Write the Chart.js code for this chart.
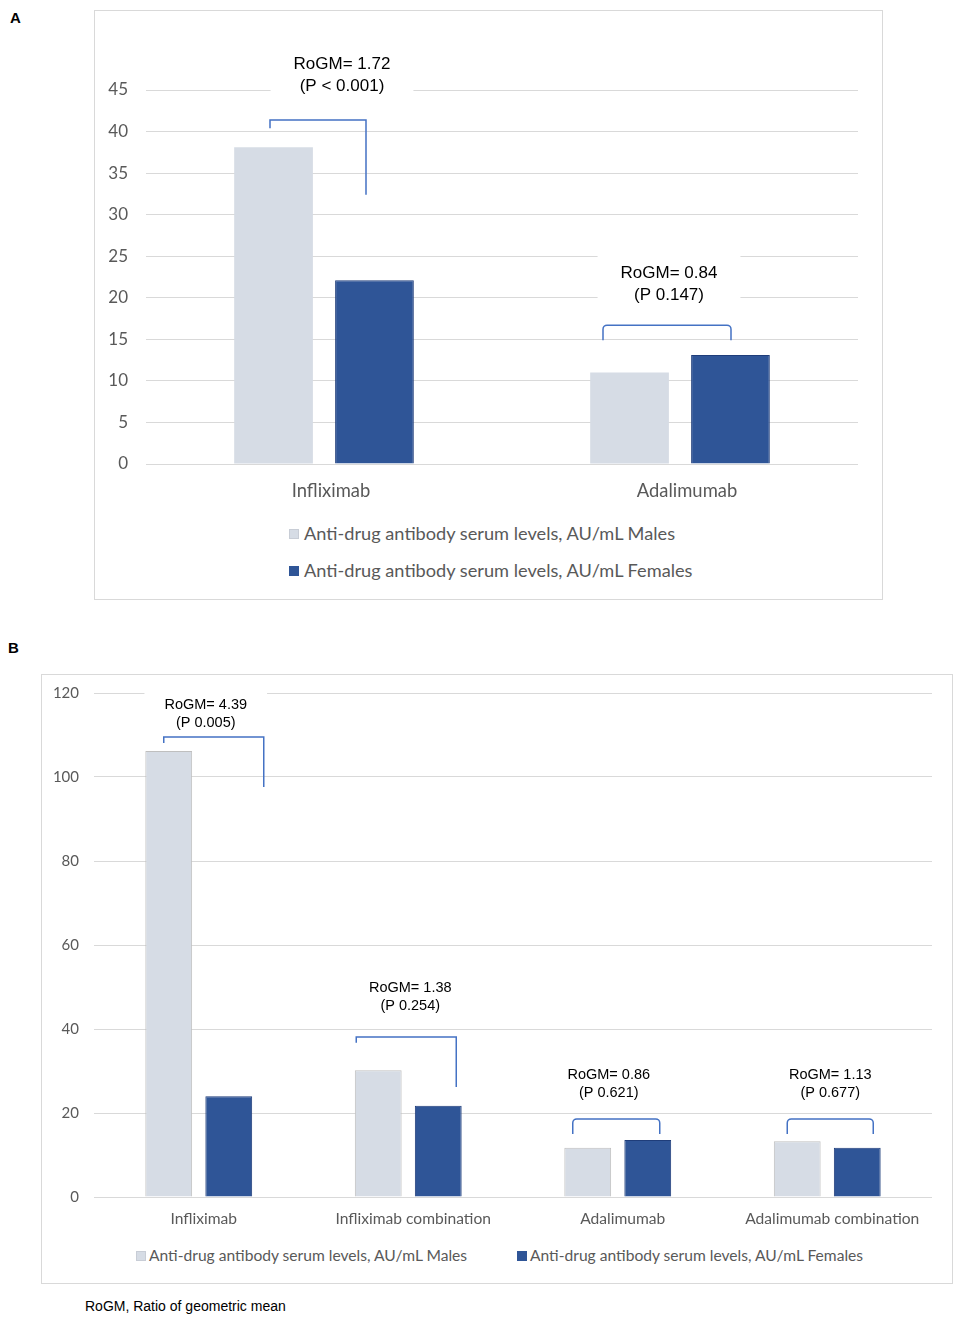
<!DOCTYPE html>
<html>
<head>
<meta charset="utf-8">
<script src="https://cdn.jsdelivr.net/npm/chart.js@4.4.1/dist/chart.umd.min.js"></script>
<style>
  body { margin: 0; width: 957px; height: 1321px; background: #fff; position: relative; font-family: "Liberation Sans", Arial, sans-serif; }
  .frame { position: absolute; border: 1px solid #d9d9d9; box-sizing: border-box; }
  .panel-tag { position: absolute; font-weight: bold; font-size: 15px; color: #000; }
  canvas { position: absolute; }
  .lg { position: absolute; font-family: Lato, sans-serif; color: #595959; white-space: nowrap; }
  .lg i { position: absolute; display: block; }
  .note { position: absolute; font-size: 14px; color: #000; }
</style>
</head>
<body>
<div class="panel-tag" style="left:10px;top:9px;">A</div>
<div class="frame" style="left:94px;top:10px;width:789px;height:590px;"></div>
<canvas id="chartA" width="786" height="500" style="left:95px;top:11px;width:786px;height:500px;"></canvas>
<div id="legendA"></div>

<div class="panel-tag" style="left:8px;top:639px;">B</div>
<div class="frame" style="left:41px;top:674px;width:912px;height:610px;"></div>
<canvas id="chartB" width="909" height="560" style="left:42px;top:675px;width:909px;height:560px;"></canvas>
<div id="legendB"></div>

<div class="note" style="left:85px;top:1298px;">RoGM, Ratio of geometric mean</div>

<script>
// ---- data ----
const seriesNames = ['Anti-drug antibody serum levels, AU/mL Males', 'Anti-drug antibody serum levels, AU/mL Females'];

const catsA = ['Infliximab', 'Adalimumab'];
const malesA = [38.1, 11.0];
const femalesA = [22.1, 13.1];
const ticksA = [0, 5, 10, 15, 20, 25, 30, 35, 40, 45];

const catsB = ['Infliximab', 'Infliximab combination', 'Adalimumab', 'Adalimumab combination'];
const malesB = [106.2, 30.2, 11.7, 13.3];
const femalesB = [24.0, 21.7, 13.6, 11.7];
const ticksB = [0, 20, 40, 60, 80, 100, 120];

// annotations (ratio text, p value, bracket levels in axis units)
const rogmA = ['RoGM= 1.72', 'RoGM= 0.84'];
const pA = ['(P < 0.001)', '(P 0.147)'];
const textYA = [48.1, 23.0];
const brTopA = [41.4, 16.7];
const brLeftA = [40.4, 14.9];
const brRightA = [32.4, 14.9];

const rogmB = ['RoGM= 4.39', 'RoGM= 1.38', 'RoGM= 0.86', 'RoGM= 1.13'];
const pB = ['(P 0.005)', '(P 0.254)', '(P 0.621)', '(P 0.677)'];
const textYB = [117.1, 49.8, 29.0, 29.0];
const brTopB = [109.5, 38.1, 18.6, 18.6];
const brLeftB = [108.1, 36.7, 15.0, 15.0];
const brRightB = [97.6, 26.2, 15.0, 15.0];

const maleFill = '#d6dce5';
const femaleFill = '#2f5597';
const bracketColor = '#4472c4';

// draws the RoGM labels and the brackets joining the two bars
const rogmPlugin = {
  id: 'rogm',
  beforeDatasetsDraw(chart, args, o) {
    const ctx = chart.ctx, xs = chart.scales.x, ys = chart.scales.y;
    ctx.save();
    ctx.font = o.size + 'px "Liberation Sans", Arial, sans-serif';
    o.rogm.forEach((t, i) => {
      const cx = xs.getPixelForValue(i) + o.textDx[i];
      const y1 = ys.getPixelForValue(o.textY[i]);
      const w = Math.max(ctx.measureText(t).width, ctx.measureText(o.p[i]).width) + o.pad * 2;
      ctx.fillStyle = '#fff';
      ctx.fillRect(cx - w / 2, y1 - o.size * 1.2, w, o.gap + o.size * 1.9);
    });
    ctx.restore();
  },
  afterDatasetsDraw(chart, args, o) {
    const ctx = chart.ctx, xs = chart.scales.x, ys = chart.scales.y;
    ctx.save();
    ctx.font = o.size + 'px "Liberation Sans", Arial, sans-serif';
    ctx.textAlign = 'center';
    ctx.textBaseline = 'middle';
    ctx.fillStyle = '#000';
    o.rogm.forEach((t, i) => {
      const cx = xs.getPixelForValue(i) + o.textDx[i];
      const y1 = ys.getPixelForValue(o.textY[i]);
      ctx.fillText(t, cx, y1);
      ctx.fillText(o.p[i], cx, y1 + o.gap);

      const x0 = xs.getPixelForValue(i) + o.leftDx[i];
      const x1 = xs.getPixelForValue(i) + o.rightDx[i];
      const top = ys.getPixelForValue(o.top[i]);
      const r = o.round[i] ? 4 : 0;
      ctx.strokeStyle = bracketColor;
      ctx.lineWidth = 1.5;
      ctx.beginPath();
      ctx.moveTo(x0, ys.getPixelForValue(o.left[i]));
      ctx.arcTo(x0, top, x1, top, r);
      ctx.arcTo(x1, top, x1, ys.getPixelForValue(o.right[i]), r);
      ctx.lineTo(x1, ys.getPixelForValue(o.right[i]));
      ctx.stroke();
    });
    ctx.restore();
  }
};

function makeChart(id, cats, males, females, ticks, maxY, dims, tickFont, catFont, notes, borders) {
  return new Chart(document.getElementById(id), {
    type: 'bar',
    data: {
      labels: cats,
      datasets: [
        { label: seriesNames[0], data: males, backgroundColor: maleFill, borderColor: borders[0], borderWidth: borders[0] ? 1 : 0 },
        { label: seriesNames[1], data: females, backgroundColor: femaleFill, borderColor: borders[1], borderWidth: 1 }
      ]
    },
    options: {
      responsive: false,
      animation: false,
      categoryPercentage: dims.cat,
      barPercentage: 0.78,
      layout: { padding: { top: dims.top, right: dims.right, left: 0, bottom: 0 } },
      plugins: { legend: { display: false }, tooltip: { enabled: false }, rogm: notes },
      scales: {
        x: {
          grid: { display: false, drawTicks: false },
          border: { display: false },
          ticks: { color: '#595959', font: catFont, padding: dims.xPad, labelOffset: dims.xOff },
          afterFit: (s) => { s.height = dims.xH; s.paddingLeft = 0; s.paddingRight = 0; }
        },
        y: {
          min: 0, max: maxY,
          afterBuildTicks: (s) => { s.ticks = ticks.map(v => ({ value: v })); },
          grid: { color: '#d9d9d9', lineWidth: 1, drawTicks: false },
          border: { display: false },
          ticks: { color: '#595959', font: tickFont, padding: dims.yPad },
          // fixed width, and no extra room for the top label so the plot top is exact
          afterFit: (s) => { s.width = dims.yW; s.paddingTop = 0; s.paddingBottom = 0; }
        }
      }
    },
    plugins: [rogmPlugin]
  });
}

makeChart('chartA', catsA, malesA, femalesA, ticksA, 45,
  { cat: 0.567, top: 79, right: 23, xH: 47, xPad: 16, xOff: 7, yW: 51, yPad: 18 },
  { family: 'Lato', size: 17 }, { family: 'Lato', size: 18.4 },
  { rogm: rogmA, p: pA, textY: textYA, textDx: [18, -11], top: brTopA, left: brLeftA, right: brRightA,
    leftDx: [-54, -77], rightDx: [42, 51], round: [false, true], size: 17, gap: 22, pad: 23 },
  [null, '#1f3d7a']);

makeChart('chartB', catsB, malesB, femalesB, ticksB, 120,
  { cat: 0.573, top: 18, right: 19, xH: 38, xPad: 13, xOff: 5, yW: 52, yPad: 15 },
  { family: 'Lato', size: 15 }, { family: 'Lato', size: 15.6 },
  { rogm: rogmB, p: pB, textY: textYB, textDx: [7, 2, -9, 3], top: brTopB, left: brLeftB, right: brRightB,
    leftDx: [-35, -52, -45, -40], rightDx: [65, 48, 42, 46], round: [false, false, true, true], size: 14.5, gap: 18, pad: 20 },
  ['#bfbfbf', '#1f3d7a']);

// html legends
function legend(id, items, size) {
  const el = document.getElementById(id);
  items.forEach((it, i) => {
    const row = document.createElement('div');
    row.className = 'lg';
    row.style.left = it.x + 'px';
    row.style.top = (it.y - size * 0.7) + 'px';
    row.style.fontSize = size + 'px';
    row.style.lineHeight = (size * 1.4) + 'px';
    row.style.paddingLeft = it.tx + 'px';
    const sw = document.createElement('i');
    sw.style.left = '0px';
    sw.style.top = (size * 0.7 - 5) + 'px';
    sw.style.width = '10px';
    sw.style.height = '10px';
    sw.style.background = i === 0 ? maleFill : femaleFill;
    if (i === 0) sw.style.boxShadow = 'inset 0 0 0 1px #c8cdd6';
    row.appendChild(sw);
    row.appendChild(document.createTextNode(seriesNames[i]));
    el.appendChild(row);
  });
}
legend('legendA', [{ x: 289, y: 534, tx: 15 }, { x: 289, y: 571, tx: 15 }], 18.2);
legend('legendB', [{ x: 136, y: 1256, tx: 13 }, { x: 517, y: 1256, tx: 13 }], 15.6);
</script>
</body>
</html>
